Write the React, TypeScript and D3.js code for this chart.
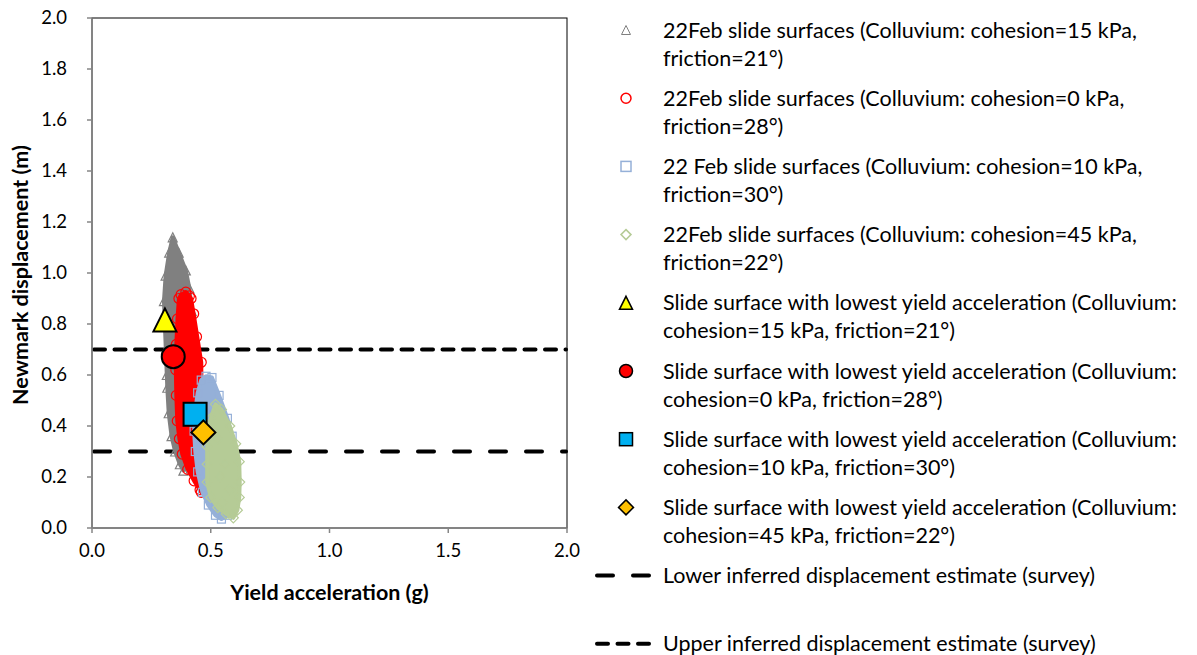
import React from "react";
import * as d3 from "d3";

const W = 1197;
const H = 655;

// axis ticks
const xTicks = [0, 0.5, 1.0, 1.5, 2.0];
const yTicks = [0, 0.2, 0.4, 0.6, 0.8, 1.0, 1.2, 1.4, 1.6, 1.8, 2.0];

// 22Feb slide surfaces (Colluvium: cohesion=15 kPa, friction=21°)  [yield acc (g), displacement (m)]
const grayC15: [number, number][] = [
  [0.340, 1.14], [0.325, 1.08], [0.31, 0.99], [0.303, 0.89], [0.307, 0.80], [0.312, 0.70],
  [0.315, 0.60], [0.317, 0.55], [0.323, 0.45], [0.335, 0.36], [0.35, 0.30], [0.37, 0.25],
  [0.385, 0.225], [0.40, 0.26], [0.41, 0.40], [0.42, 0.60], [0.42, 0.80], [0.42, 0.85],
  [0.41, 0.94], [0.395, 1.01], [0.365, 1.08], [0.35, 1.10], [0.34, 1.0], [0.33, 0.9],
  [0.34, 0.7], [0.35, 0.5], [0.37, 0.35], [0.37, 0.95], [0.39, 0.9],
];

// 22Feb slide surfaces (Colluvium: cohesion=0 kPa, friction=28°)
const redC0: [number, number][] = [
  [0.375, 0.915], [0.395, 0.925], [0.41, 0.91], [0.366, 0.90], [0.36, 0.82], [0.355, 0.72],
  [0.353, 0.62], [0.355, 0.52], [0.359, 0.42], [0.368, 0.35], [0.38, 0.29], [0.403, 0.23],
  [0.43, 0.185], [0.455, 0.15], [0.46, 0.14], [0.465, 0.16], [0.46, 0.25], [0.46, 0.40],
  [0.46, 0.55], [0.46, 0.65], [0.44, 0.75], [0.428, 0.84], [0.417, 0.90], [0.39, 0.85],
  [0.40, 0.7], [0.41, 0.55], [0.42, 0.4], [0.43, 0.28], [0.39, 0.6], [0.38, 0.45],
];

// 22 Feb slide surfaces (Colluvium: cohesion=10 kPa, friction=30°)
const blueC10: [number, number][] = [
  [0.48, 0.595], [0.505, 0.59], [0.535, 0.52], [0.57, 0.43], [0.59, 0.36], [0.60, 0.28],
  [0.60, 0.18], [0.59, 0.10], [0.57, 0.05], [0.545, 0.035], [0.52, 0.05], [0.49, 0.09],
  [0.465, 0.14], [0.445, 0.22], [0.435, 0.30], [0.43, 0.38], [0.435, 0.46], [0.445, 0.53],
  [0.46, 0.58], [0.48, 0.45], [0.50, 0.3], [0.52, 0.15], [0.47, 0.35], [0.53, 0.4],
];

// 22Feb slide surfaces (Colluvium: cohesion=45 kPa, friction=22°)
const greenC45: [number, number][] = [
  [0.52, 0.485], [0.545, 0.465], [0.58, 0.40], [0.605, 0.33], [0.62, 0.26], [0.622, 0.18],
  [0.62, 0.12], [0.612, 0.07], [0.595, 0.04], [0.565, 0.055], [0.53, 0.08], [0.50, 0.12],
  [0.485, 0.18], [0.485, 0.25], [0.485, 0.32], [0.49, 0.38], [0.50, 0.43], [0.53, 0.35],
  [0.56, 0.25], [0.58, 0.15], [0.54, 0.2], [0.55, 0.1],
];

// Slide surfaces with lowest yield acceleration
const lowestC15: [number, number] = [0.307, 0.816];
const lowestC0: [number, number] = [0.342, 0.672];
const lowestC10: [number, number] = [0.434, 0.446];
const lowestC45: [number, number] = [0.469, 0.375];

// inferred displacement estimates (survey)
const lowerEstimate = 0.3;
const upperEstimate = 0.7;

const legendLabels: [string, string][] = [
  ["22Feb slide surfaces (Colluvium: cohesion=15 kPa,", "friction=21°)"],
  ["22Feb slide surfaces (Colluvium: cohesion=0 kPa,", "friction=28°)"],
  ["22 Feb slide surfaces (Colluvium: cohesion=10 kPa,", "friction=30°)"],
  ["22Feb slide surfaces (Colluvium: cohesion=45 kPa,", "friction=22°)"],
  ["Slide surface with lowest yield acceleration (Colluvium:", "cohesion=15 kPa, friction=21°)"],
  ["Slide surface with lowest yield acceleration (Colluvium:", "cohesion=0 kPa, friction=28°)"],
  ["Slide surface with lowest yield acceleration (Colluvium:", "cohesion=10 kPa, friction=30°)"],
  ["Slide surface with lowest yield acceleration (Colluvium:", "cohesion=45 kPa, friction=22°)"],
  ["Lower inferred displacement estimate (survey)", ""],
  ["Upper inferred displacement estimate (survey)", ""],
];

const FONT = "Lato, 'Open Sans', sans-serif";
const GRAY = "#808080";
const RED = "#FF0000";
const BLUE = "#95B0D8";
const GREEN = "#B5CB96";

const triPath = (cx: number, cy: number, s: number) =>
  `M${cx},${cy - s / 2}L${cx + s / 2},${cy + s / 2}L${cx - s / 2},${cy + s / 2}Z`;
const diaPath = (cx: number, cy: number, r: number) =>
  `M${cx},${cy - r}L${cx + r},${cy}L${cx},${cy + r}L${cx - r},${cy}Z`;

type Kind = "tri" | "circle" | "square" | "diamond";

function Marker({ kind, cx, cy, size, fill, stroke, sw }: { kind: Kind; cx: number; cy: number; size: number; fill: string; stroke: string; sw: number }) {
  if (kind === "tri") return <path d={triPath(cx, cy, size)} fill={fill} stroke={stroke} strokeWidth={sw} strokeLinejoin="miter" />;
  if (kind === "circle") return <circle cx={cx} cy={cy} r={size / 2} fill={fill} stroke={stroke} strokeWidth={sw} />;
  if (kind === "square") return <rect x={cx - size / 2} y={cy - size / 2} width={size} height={size} fill={fill} stroke={stroke} strokeWidth={sw} />;
  return <path d={diaPath(cx, cy, size / 2)} fill={fill} stroke={stroke} strokeWidth={sw} />;
}

export default function App() {
  const x = d3.scaleLinear().domain([0, 2]).range([92, 567]);
  const y = d3.scaleLinear().domain([0, 2]).range([528, 18]);
  const [x0, x1] = x.range();
  const [y0, y1] = y.range();

  const clouds: { data: [number, number][]; color: string; kind: Kind; size: number }[] = [
    { data: grayC15, color: GRAY, kind: "tri", size: 9 },
    { data: redC0, color: RED, kind: "circle", size: 10 },
    { data: blueC10, color: BLUE, kind: "square", size: 8 },
    { data: greenC45, color: GREEN, kind: "diamond", size: 10 },
  ];

  const highlights: { p: [number, number]; kind: Kind; fill: string; size: number }[] = [
    { p: lowestC15, kind: "tri", fill: "#FFFF00", size: 23 },
    { p: lowestC0, kind: "circle", fill: "#FF0000", size: 23 },
    { p: lowestC10, kind: "square", fill: "#00B0F0", size: 23 },
    { p: lowestC45, kind: "diamond", fill: "#FFC000", size: 24 },
  ];

  const line = d3.line<[number, number]>().curve(d3.curveLinearClosed);

  const legendY = (i: number) => 30 + i * 68.2;
  const upperDash = "11 9.5";
  const lowerDash = "16 20";

  return (
    <svg width={W} height={H} style={{ position: "absolute", left: 0, top: 0, background: "#fff" }} fontFamily={FONT}>
      {/* plot border */}
      <rect x={x0} y={y1} width={x1 - x0} height={y0 - y1} fill="none" stroke="#000" strokeWidth={1} />

      {/* estimate lines (under the clouds) */}
      <line x1={x0 + 2} x2={x1 - 1} y1={y(upperEstimate)} y2={y(upperEstimate)} stroke="#000" strokeWidth={4} strokeDasharray={upperDash} strokeLinecap="round" />
      <line x1={x0 + 2} x2={x1 - 1} y1={y(lowerEstimate)} y2={y(lowerEstimate)} stroke="#000" strokeWidth={4} strokeDasharray={lowerDash} strokeLinecap="round" />

      {/* clouds */}
      {clouds.map((c, ci) => {
        const pts = c.data.map((d) => [x(d[0]), y(d[1])] as [number, number]);
        const hull = d3.polygonHull(pts) || pts;
        return (
          <g key={ci}>
            <path d={line(hull) || ""} fill={c.color} stroke={c.color} strokeWidth={4} strokeLinejoin="round" />
            {pts.map((p, i) => (
              <Marker key={i} kind={c.kind} cx={p[0]} cy={p[1]} size={c.size} fill="none" stroke={c.color} sw={1.2} />
            ))}
          </g>
        );
      })}

      {/* highlight markers */}
      {highlights.map((h, i) => (
        <Marker key={i} kind={h.kind} cx={x(h.p[0])} cy={y(h.p[1])} size={h.size} fill={h.fill} stroke="#000" sw={2} />
      ))}

      {/* axes */}
      <line x1={x0} x2={x0} y1={y0} y2={y1} stroke="#868686" strokeWidth={1.5} />
      <line x1={x0} x2={x1} y1={y0} y2={y0} stroke="#868686" strokeWidth={1.5} />
      {yTicks.map((t) => (
        <g key={"y" + t}>
          <line x1={x0 - 5} x2={x0} y1={y(t)} y2={y(t)} stroke="#868686" strokeWidth={1.5} />
          <text x={x0 - 25} y={y(t)} dy="0.35em" textAnchor="end" fontSize={18.5} fill="#000">{t.toFixed(1)}</text>
        </g>
      ))}
      {xTicks.map((t) => (
        <g key={"x" + t}>
          <line x1={x(t)} x2={x(t)} y1={y0} y2={y0 + 5} stroke="#868686" strokeWidth={1.5} />
          <text x={x(t)} y={557} textAnchor="middle" fontSize={18.5} fill="#000">{t.toFixed(1)}</text>
        </g>
      ))}
      <text x={(x0 + x1) / 2} y={600} textAnchor="middle" fontSize={21.5} fontWeight="bold" fill="#000">Yield acceleration (g)</text>
      <text transform={`translate(28,${(y0 + y1) / 2 + 2}) rotate(-90)`} textAnchor="middle" fontSize={21.5} fontWeight="bold" fill="#000">Newmark displacement (m)</text>

      {/* legend */}
      {legendLabels.map((lab, i) => {
        const ly = legendY(i);
        let sym: React.ReactNode = null;
        if (i === 0) sym = <path d={triPath(626, ly, 9)} fill="none" stroke={GRAY} strokeWidth={1} />;
        if (i === 1) sym = <circle cx={626} cy={ly} r={5} fill="none" stroke={RED} strokeWidth={1.5} />;
        if (i === 2) sym = <rect x={621} y={ly - 5} width={10} height={10} fill="none" stroke={BLUE} strokeWidth={1.5} />;
        if (i === 3) sym = <path d={diaPath(626, ly, 5)} fill="none" stroke={GREEN} strokeWidth={1.5} />;
        if (i >= 4 && i <= 7) {
          const h = highlights[i - 4];
          sym = <Marker kind={h.kind} cx={626} cy={ly} size={h.kind === "diamond" ? 15 : 13} fill={h.fill} stroke="#000" sw={1.5} />;
        }
        if (i === 8) sym = <line x1={597} x2={649} y1={ly} y2={ly} stroke="#000" strokeWidth={4} strokeDasharray={lowerDash} strokeLinecap="round" />;
        if (i === 9) sym = <line x1={597} x2={649} y1={ly} y2={ly} stroke="#000" strokeWidth={4} strokeDasharray={upperDash} strokeLinecap="round" />;
        return (
          <g key={i}>
            {sym}
            <text x={663} y={ly} dy="0.35em" fontSize={21.5} fill="#000">{lab[0]}</text>
            {lab[1] && <text x={663} y={ly + 28} dy="0.35em" fontSize={21.5} fill="#000">{lab[1]}</text>}
          </g>
        );
      })}
    </svg>
  );
}
